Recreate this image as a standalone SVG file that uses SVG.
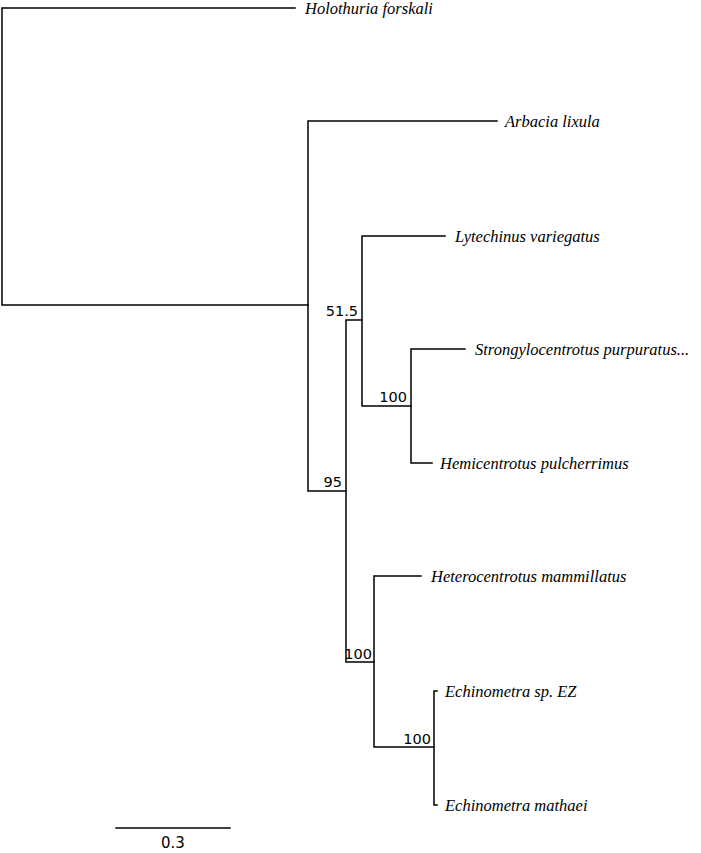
<svg xmlns="http://www.w3.org/2000/svg" width="701" height="853" viewBox="0 0 701 853">
<style>
.e{stroke:#000;stroke-width:1.5;fill:none;stroke-linecap:square}
.t{font-family:"Liberation Serif",serif;font-style:italic;font-size:16.5px}
.b{font-family:"DejaVu Sans",sans-serif;font-size:14.5px;text-anchor:end}
</style>
<rect width="701" height="853" fill="#fff"/>
<g id="connectors">
<path class="e" d="M2,8V305M2,8H295M2,305H308"/>
<path class="e" d="M308,121V491M308,121H497M308,491H346"/>
<path class="e" d="M346,320V662M346,320H362M346,662H374"/>
<path class="e" d="M362,236V406M362,236H445M362,406H411"/>
<path class="e" d="M411,349V463M411,349H465M411,463H432"/>
<path class="e" d="M374,576V747M374,576H421M374,747H434"/>
<path class="e" d="M434,691V805M434,691H437M434,805H437"/>
<path class="e" d="M116,828H230"/>
</g>
<g id="leaves">
<text class="t" x="305" y="14">Holothuria forskali</text>
<text class="t" x="505" y="127">Arbacia lixula</text>
<text class="t" x="455" y="242">Lytechinus variegatus</text>
<text class="t" x="475" y="355">Strongylocentrotus purpuratus...</text>
<text class="t" x="440" y="469">Hemicentrotus pulcherrimus</text>
<text class="t" x="431" y="582">Heterocentrotus mammillatus</text>
<text class="t" x="445" y="697">Echinometra sp. EZ</text>
<text class="t" x="445" y="811">Echinometra mathaei</text>
</g>
<g id="support">
<text class="b" x="358" y="316">51.5</text>
<text class="b" x="342" y="487">95</text>
<text class="b" x="407" y="402">100</text>
<text class="b" x="372" y="659">100</text>
<text class="b" x="431" y="744">100</text>
<text font-family="DejaVu Sans,sans-serif" font-size="15" x="173" y="848" text-anchor="middle">0.3</text>
</g>
</svg>
